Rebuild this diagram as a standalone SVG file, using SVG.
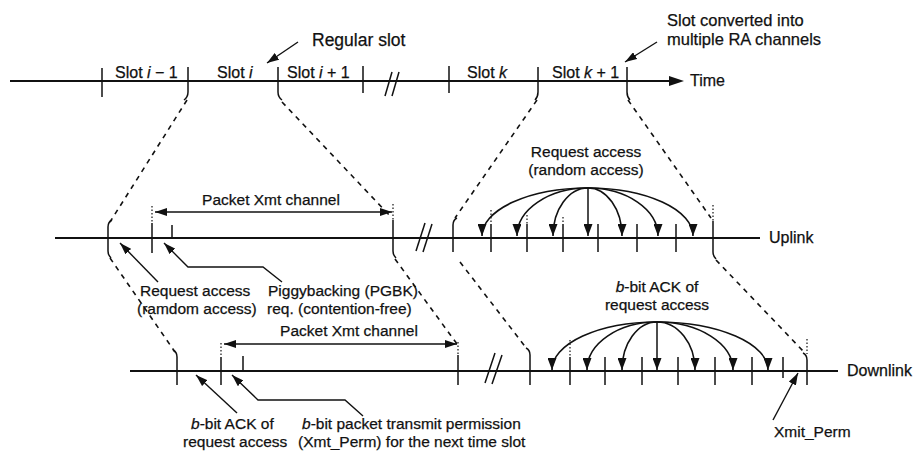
<svg xmlns="http://www.w3.org/2000/svg" width="918" height="451" viewBox="0 0 918 451">
<defs>
<style>
text{font-family:"Liberation Sans",Arial,sans-serif;font-size:15.5px;fill:#111;stroke:#111;stroke-width:0.25}
.big{font-size:16.5px}
.sl{font-size:16px}
.mid{text-anchor:middle}
.ln{stroke:#111;stroke-width:1.8;fill:none}
.tk{stroke:#111;stroke-width:1.5;fill:none}
.dot{stroke:#111;stroke-width:1.2;stroke-dasharray:1.5,2;fill:none}
.dash{stroke:#111;stroke-width:1.6;stroke-dasharray:5,5;fill:none}
.arc{stroke:#111;stroke-width:1.6;fill:none;marker-end:url(#ah2)}
.lead{stroke:#111;stroke-width:1.4;fill:none;marker-end:url(#ah)}
.it{font-style:italic}
</style>
<marker id="ah" viewBox="0 0 12 8" refX="12" refY="4" markerWidth="12" markerHeight="8" markerUnits="userSpaceOnUse" orient="auto-start-reverse"><path d="M0,0 L12,4 L0,8 z" fill="#111"/></marker>
<marker id="ah2" viewBox="0 0 12 9" refX="12" refY="4.5" markerWidth="12" markerHeight="9" markerUnits="userSpaceOnUse" orient="auto"><path d="M0,0 L12,4.5 L0,9 z" fill="#111"/></marker>
</defs>
<rect width="918" height="451" fill="#fff"/>

<g id="top-timeline">
<line class="ln" x1="10" y1="81" x2="672" y2="81"/>
<polygon points="669,76 684,81 669,86" fill="#111"/>
<line class="tk" x1="102" y1="68" x2="102" y2="97"/>
<path class="tk" d="M188,67 L188,92 Q188,97 184,100"/>
<path class="tk" d="M278,67 L278,92 Q278,97 282,100"/>
<line class="tk" x1="363" y1="66" x2="363" y2="93"/>
<line class="tk" x1="392" y1="72" x2="385" y2="96"/>
<line class="tk" x1="399" y1="72" x2="392" y2="96"/>
<line class="tk" x1="449" y1="66" x2="449" y2="93"/>
<path class="tk" d="M538,67 L538,92 Q538,97 535,100"/>
<path class="tk" d="M627,67 L627,92 Q627,97 630,100"/>
<text class="sl" x="115" y="78">Slot <tspan class="it">i</tspan> − 1</text>
<text class="sl" x="217" y="78">Slot <tspan class="it">i</tspan></text>
<text class="sl" x="287" y="78">Slot <tspan class="it">i</tspan> + 1</text>
<text class="sl" x="467" y="78">Slot <tspan class="it">k</tspan></text>
<text class="sl" x="552" y="78">Slot <tspan class="it">k</tspan> + 1</text>
<text class="sl" x="690" y="86">Time</text>
<text class="big" x="312" y="46" style="font-size:17.5px">Regular slot</text>
<text class="big" x="667" y="26">Slot converted into</text>
<text class="big" x="667" y="45">multiple RA channels</text>
</g>

<g id="uplink">
<line class="ln" x1="55" y1="238" x2="760" y2="238"/>
<path class="tk" d="M112,220 Q108,222 108,227 L108,251 Q108,255 111,258"/>
<line class="tk" x1="152" y1="223" x2="152" y2="253"/>
<line class="dot" x1="152" y1="206" x2="152" y2="223"/>
<line class="tk" x1="172" y1="225" x2="172" y2="238"/>
<line class="dot" x1="393" y1="204" x2="393" y2="220"/>
<path class="tk" d="M393,220 L393,251 Q393,255 396,258"/>
<line class="tk" x1="425" y1="223" x2="416" y2="251"/>
<line class="tk" x1="432" y1="224" x2="423" y2="252"/>
<path class="tk" d="M457,218 Q453,220 453,225 L453,252"/>
<line class="tk" x1="491" y1="224" x2="491" y2="252"/>
<line class="dot" x1="491" y1="210" x2="491" y2="224"/>
<line class="tk" x1="527" y1="224" x2="527" y2="252"/>
<line class="dot" x1="527" y1="215" x2="527" y2="224"/>
<line class="tk" x1="563" y1="224" x2="563" y2="252"/>
<line class="dot" x1="563" y1="217" x2="563" y2="224"/>
<line class="tk" x1="598" y1="224" x2="598" y2="252"/>
<line class="tk" x1="637" y1="224" x2="637" y2="252"/>
<line class="tk" x1="676" y1="224" x2="676" y2="252"/>
<line class="dot" x1="713" y1="205" x2="713" y2="221"/>
<path class="tk" d="M713,221 L713,252 Q713,256 716,259"/>
<text class="sl" x="769" y="243">Uplink</text>
<text class="mid" x="271" y="205">Packet Xmt channel</text>
<text class="mid" x="586" y="157">Request access</text>
<text class="mid" x="586" y="175">(random access)</text>
</g>

<g id="downlink">
<line class="ln" x1="130" y1="371" x2="838" y2="371"/>
<path class="tk" d="M173,350 Q177,352 177,357 L177,385"/>
<line class="tk" x1="221" y1="357" x2="221" y2="385"/>
<line class="dot" x1="221" y1="343" x2="221" y2="357"/>
<line class="tk" x1="243" y1="356" x2="243" y2="371"/>
<line class="dot" x1="458" y1="342" x2="458" y2="355"/>
<line class="tk" x1="458" y1="355" x2="458" y2="385"/>
<line class="tk" x1="495" y1="353" x2="485" y2="383"/>
<line class="tk" x1="502" y1="355" x2="492" y2="384"/>
<path class="tk" d="M526,348 Q530,350 530,355 L530,385"/>
<line class="tk" x1="570" y1="357" x2="570" y2="385"/>
<line class="dot" x1="570" y1="340" x2="570" y2="357"/>
<line class="tk" x1="605" y1="357" x2="605" y2="385"/>
<line class="tk" x1="642" y1="357" x2="642" y2="385"/>
<line class="tk" x1="678" y1="357" x2="678" y2="385"/>
<line class="tk" x1="715" y1="357" x2="715" y2="385"/>
<line class="tk" x1="752" y1="357" x2="752" y2="385"/>
<line class="tk" x1="783" y1="357" x2="783" y2="378"/>
<line class="dot" x1="807" y1="339" x2="807" y2="354"/>
<path class="tk" d="M803,353 Q807,355 807,360 L807,385"/>
<text class="sl" x="847" y="376">Downlink</text>
<text class="mid" x="349" y="336">Packet Xmt channel</text>
<text class="mid" x="657" y="292"><tspan class="it">b</tspan>-bit ACK of</text>
<text class="mid" x="657" y="310">request access</text>
</g>

<g id="labels">
<text x="140" y="296">Request access</text>
<text x="137" y="314">(ramdom access)</text>
<text x="268" y="296">Piggybacking (PGBK)</text>
<text x="267" y="314">req. (contention-free)</text>
<text x="191" y="429"><tspan class="it">b</tspan>-bit ACK of</text>
<text x="183" y="447">request access</text>
<text x="302" y="429"><tspan class="it">b</tspan>-bit packet transmit permission</text>
<text x="298" y="447">(Xmt_Perm) for the next time slot</text>
<text x="774" y="437">Xmit_Perm</text>
</g>

<g id="connectors">
<line class="dash" x1="187" y1="100" x2="110" y2="222"/>
<line class="dash" x1="282" y1="102" x2="392" y2="218"/>
<line class="dash" x1="537" y1="100" x2="455" y2="218"/>
<line class="dash" x1="628" y1="100" x2="711" y2="218"/>
<line class="dash" x1="110" y1="258" x2="175" y2="352"/>
<line class="dash" x1="395" y1="259" x2="457" y2="344"/>
<line class="dash" x1="460" y1="262" x2="527" y2="349"/>
<line class="dash" x1="716" y1="260" x2="804" y2="352"/>
<line class="lead" x1="158" y1="282" x2="120" y2="243"/>
<polyline class="lead" points="282,282 263,267 188,267 164,243"/>
<line class="lead" x1="237" y1="413" x2="196" y2="375"/>
<polyline class="lead" points="363,416 345,400 258,400 232,375"/>
<line class="lead" x1="773" y1="420" x2="798" y2="373"/>
<line class="lead" x1="298" y1="42" x2="267" y2="63"/>
<line class="lead" x1="657" y1="42" x2="625" y2="62"/>
<line class="tk" x1="155" y1="212" x2="392" y2="212" style="marker-start:url(#ah);marker-end:url(#ah)"/>
<line class="tk" x1="224" y1="344" x2="457" y2="344" style="marker-start:url(#ah);marker-end:url(#ah)"/>
<path class="arc" d="M588,188 A106,48 0 0 0 482,236"/>
<path class="arc" d="M588,188 A71,48 0 0 0 517,236"/>
<path class="arc" d="M588,188 A35,48 0 0 0 553,236"/>
<line class="tk" x1="588" y1="188" x2="588" y2="236" style="marker-end:url(#ah2)"/>
<path class="arc" d="M588,188 A34,48 0 0 1 622,236"/>
<path class="arc" d="M588,188 A70,48 0 0 1 658,236"/>
<path class="arc" d="M588,188 A105,48 0 0 1 693,236"/>
<path class="arc" d="M657,322 A105,48 0 0 0 552,370"/>
<path class="arc" d="M657,322 A70,48 0 0 0 587,370"/>
<path class="arc" d="M657,322 A35,48 0 0 0 622,370"/>
<line class="tk" x1="657" y1="322" x2="657" y2="370" style="marker-end:url(#ah2)"/>
<path class="arc" d="M657,322 A38,48 0 0 1 695,370"/>
<path class="arc" d="M657,322 A76,48 0 0 1 733,370"/>
<path class="arc" d="M657,322 A111,48 0 0 1 768,370"/>
</g>
</svg>
